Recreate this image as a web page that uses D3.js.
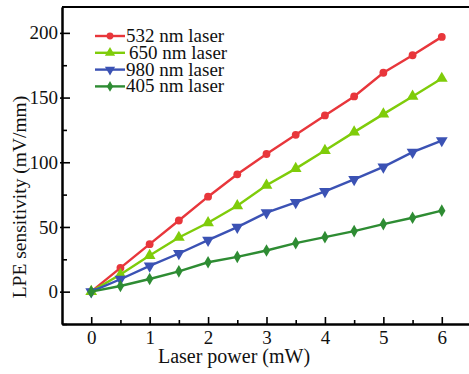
<!DOCTYPE html>
<html>
<head>
<meta charset="utf-8">
<script src="https://cdn.jsdelivr.net/npm/d3@7"></script>
<style>
  html, body { margin: 0; padding: 0; background: #fff; }
  svg { display: block; }
  svg text { font-family: "Liberation Serif", "DejaVu Serif", "Times New Roman", serif !important; }
</style>
</head>
<body>
<svg id="chart" width="469" height="374"></svg>
<script>
// Laser power (mW)
const power = [0, 0.5, 1, 1.5, 2, 2.5, 3, 3.5, 4, 4.5, 5, 5.5, 6];

// LPE sensitivity (mV/mm) per wavelength
const s532 = [0, 18.4, 36.7, 55, 73.4, 90.7, 106.4, 121.2, 136.2, 150.9, 169.2, 182.7, 196.9];
const s650 = [0, 13.2, 27.9, 41.9, 53.2, 66.4, 82.2, 95.1, 109.1, 123.3, 137.2, 150.9, 164.8];
const s980 = [0, 9.6, 19.9, 29.5, 39.8, 49.9, 61, 69, 77.5, 86.8, 96.4, 107.8, 116.8];
const s405 = [0, 4.4, 9.8, 15.7, 22.7, 26.9, 31.8, 37.5, 42.1, 46.8, 52.2, 57.1, 62.6];

const seriesNames = ["532 nm laser", "650 nm laser", "980 nm laser", "405 nm laser"];
const seriesValues = [s532, s650, s980, s405];

const xTicks = [0, 1, 2, 3, 4, 5, 6];
const xMinorTicks = [0.5, 1.5, 2.5, 3.5, 4.5, 5.5];
const yTicks = [0, 50, 100, 150, 200];
const yMinorTicks = [-25, 25, 75, 125, 175];

const xLabel = "Laser power (mW)";
const yLabel = "LPE sensitivity (mV/mm)";

// Drawing styles for each series
const colors = ["#e8363b", "#7fcc0a", "#3b52b4", "#2e8c33"];
const markerTypes = [d3.symbolCircle, d3.symbolTriangle, d3.symbolTriangle, d3.symbolDiamond];
const markerSizes = [48, 60, 60, 46];
const markerRotate = [0, 0, 180, 0];

const serif = "'Liberation Serif', 'DejaVu Serif', serif";
const svg = d3.select("#chart");
const plotLeft = 62, plotRight = 471, plotTop = 7, plotBottom = 324;

const x = d3.scaleLinear().domain([-0.5, 6.5]).range([plotLeft, plotRight]);
const y = d3.scaleLinear().domain([-25, 220]).range([plotBottom, plotTop]);

// Frame: top and right borders
svg.append("line").attr("x1", plotLeft).attr("x2", plotRight).attr("y1", plotTop).attr("y2", plotTop)
  .attr("stroke", "#000").attr("stroke-width", 2);
svg.append("line").attr("x1", plotRight).attr("x2", plotRight).attr("y1", plotTop).attr("y2", plotBottom)
  .attr("stroke", "#000").attr("stroke-width", 2);

// X axis with inward ticks
const xAxis = svg.append("g").attr("transform", `translate(0,${plotBottom})`)
  .call(d3.axisBottom(x).tickValues(xTicks).tickSizeInner(-7).tickSizeOuter(0).tickPadding(7).tickFormat(d3.format("d")));
const xMinor = svg.append("g").attr("transform", `translate(0,${plotBottom})`)
  .call(d3.axisBottom(x).tickValues(xMinorTicks).tickSizeInner(-4).tickSizeOuter(0).tickFormat(""));

// Y axis with inward ticks
const yAxis = svg.append("g").attr("transform", `translate(${plotLeft},0)`)
  .call(d3.axisLeft(y).tickValues(yTicks).tickSizeInner(-8).tickSizeOuter(0).tickPadding(4).tickFormat(d3.format("d")));
const yMinor = svg.append("g").attr("transform", `translate(${plotLeft},0)`)
  .call(d3.axisLeft(y).tickValues(yMinorTicks).tickSizeInner(-5).tickSizeOuter(0).tickFormat(""));

[xAxis, xMinor, yAxis, yMinor].forEach(g => {
  g.attr("font-family", serif);
  g.select(".domain").attr("stroke", "#000").attr("stroke-width", 2);
  g.selectAll(".tick line").attr("stroke", "#000").attr("stroke-width", 1.6);
  g.selectAll("text").style("font-family", serif).attr("font-size", 19).attr("fill", "#111");
});
yAxis.selectAll(".tick line").attr("x1", -2);

// Axis titles
svg.append("text").attr("x", 234).attr("y", 363).attr("text-anchor", "middle")
  .style("font-family", serif).attr("font-size", 20).attr("fill", "#111").text(xLabel);
svg.append("text").attr("transform", "translate(26,197) rotate(-90)").attr("text-anchor", "middle")
  .style("font-family", serif).attr("font-size", 19.5).attr("fill", "#111").text(yLabel);

const line = d3.line().x((d, i) => x(power[i])).y(d => y(d));

seriesValues.forEach((vals, k) => {
  const g = svg.append("g");
  g.append("path").datum(vals).attr("d", line)
    .attr("fill", "none").attr("stroke", colors[k]).attr("stroke-width", 2.4);
  g.selectAll("path.m").data(vals).join("path").attr("class", "m")
    .attr("d", d3.symbol(markerTypes[k], markerSizes[k])())
    .attr("transform", (d, i) => `translate(${x(power[i])},${y(d)}) rotate(${markerRotate[k]})`)
    .attr("fill", colors[k]);
});

// Legend
const legend = svg.append("g");
seriesNames.forEach((name, k) => {
  const ly = 36 + k * 16.8;
  legend.append("line").attr("x1", 95).attr("x2", 125).attr("y1", ly).attr("y2", ly)
    .attr("stroke", colors[k]).attr("stroke-width", 2.4);
  legend.append("path").attr("d", d3.symbol(markerTypes[k], markerSizes[k] * 0.75)())
    .attr("transform", `translate(110,${ly}) rotate(${markerRotate[k]})`)
    .attr("fill", colors[k]);
  legend.append("text").attr("x", k === 1 ? 129 : 126).attr("y", ly + 6)
    .style("font-family", serif).attr("font-size", 19).attr("fill", "#111").text(name);
});
</script>
</body>
</html>
